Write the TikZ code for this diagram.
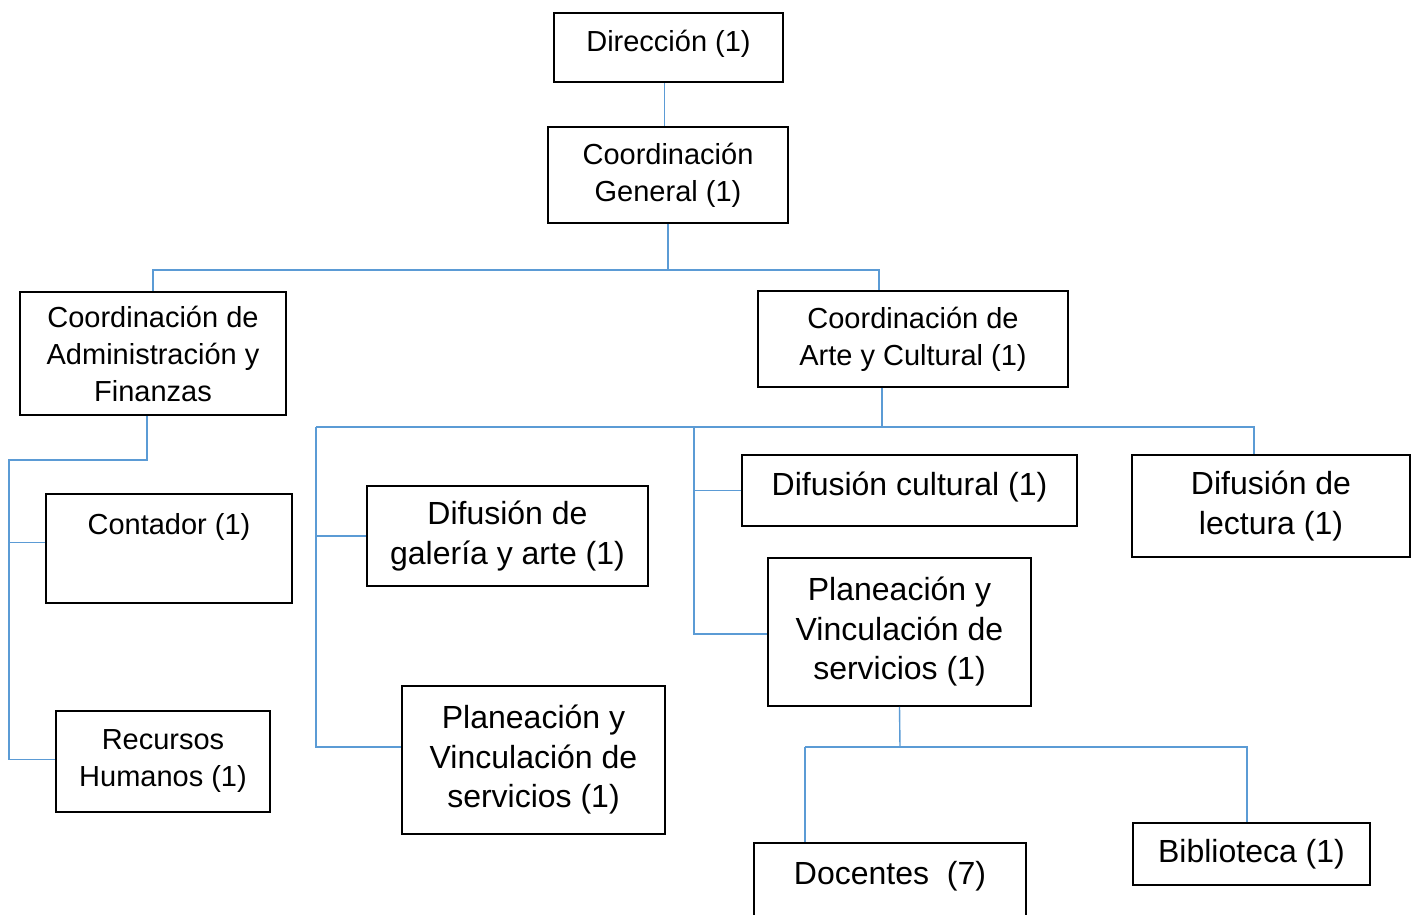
\documentclass[tikz,border=0pt]{standalone}
\usepackage{fontspec}
\setmainfont{Liberation Sans}
\definecolor{linkblue}{RGB}{91,155,213}
\begin{document}
\begin{tikzpicture}[x=1pt,y=-1pt,
  box/.style={draw,line width=1.8pt,align=center,inner sep=0pt,font=\fontsize{29}{37}\selectfont},
  bigbox/.style={box,font=\fontsize{32}{39.5}\selectfont},
  link/.style={draw=linkblue,line width=1.4pt}]
\useasboundingbox (0,0) rectangle (1419,914);
%
\node[box,minimum width=229pt,minimum height=69pt] (dir) at (668.5,47.5) {\raisebox{13pt}{Dirección (1)}};
\node[box,minimum width=240pt,minimum height=96pt] (cgen) at (668,175) {Coordinación\\General (1)};
\node[box,minimum width=266pt,minimum height=123pt] (admin) at (153,353.5) {Coordinación de\\Administración y\\Finanzas};
\node[box,minimum width=310pt,minimum height=96pt] (arte) at (913,339) {Coordinación de\\Arte y Cultural (1)};
\node[box,minimum width=246pt,minimum height=109pt] (cont) at (169,548.5) {\raisebox{50pt}{Contador (1)}};
\node[box,minimum width=214pt,minimum height=101pt] (rh) at (163,761.5) {Recursos\\Humanos (1)};
\node[bigbox,minimum width=281pt,minimum height=100pt] (gal) at (507.5,536) {Difusión de\\galería y arte (1)};
\node[bigbox,minimum width=263pt,minimum height=148pt] (planA) at (533.5,760) {Planeación y\\Vinculación de\\servicios (1)};
\node[bigbox,minimum width=335pt,minimum height=71pt] (cult) at (909.5,490.5) {\raisebox{13pt}{Difusión cultural (1)}};
\node[bigbox,minimum width=278pt,minimum height=102pt] (lect) at (1271,506) {Difusión de\\lectura (1)};
\node[bigbox,minimum width=263pt,minimum height=148pt] (planB) at (899.5,632) {Planeación y\\Vinculación de\\servicios (1)};
\node[bigbox,minimum width=272pt,minimum height=109pt] (doc) at (890,897.5) {\raisebox{50pt}{Docentes~~(7)}};
\node[bigbox,minimum width=237pt,minimum height=62pt] (bib) at (1251.5,854) {Biblioteca (1)};
%
\coordinate (jg) at (668,270);
\coordinate (ja) at (9,460);
\coordinate (jaEnd) at (9,760);
\coordinate (jc) at (882,427);
\coordinate (jcL) at (316,427);
\coordinate (jcR) at (1254,427);
\coordinate (jcM) at (694,427);
\coordinate (jp) at (900,747);
\coordinate (jpL) at (805,747);
\coordinate (jpR) at (1247,747);
%
\draw[link] ([xshift=-4pt]dir.south) -- ([xshift=-4pt]dir.south |- cgen.north);
\draw[link] (cgen.south) -- (jg);
\draw[link] (admin.north) |- (jg) -| ([xshift=-34pt]arte.north);
%
\draw[link] ([xshift=-6pt]admin.south) |- (ja) -- (jaEnd);
\draw[link] ([yshift=6pt]cont.west) -- ([yshift=6pt]cont.west -| ja);
\draw[link] ([yshift=2pt]rh.west) -- ([yshift=2pt]rh.west -| ja);
%
\draw[link] ([xshift=-31pt]arte.south) -- (jc);
\draw[link] (jcL) -- (jcR) -- (jcR |- lect.north);
\draw[link] (jcL) -- ([yshift=13pt]planA.west -| jcL) -- ([yshift=13pt]planA.west);
\draw[link] (gal.west) -- (gal.west -| jcL);
\draw[link] (jcM) -- ([yshift=-2pt]planB.west -| jcM) -- ([yshift=-2pt]planB.west);
\draw[link] (cult.west) -- (cult.west -| jcM);
%
\draw[link] (planB.south) -- (jp);
\draw[link] (jpL) -- (jpR) -- (jpR |- bib.north);
\draw[link] (jpL) -- (jpL |- doc.north);
\end{tikzpicture}
\end{document}
